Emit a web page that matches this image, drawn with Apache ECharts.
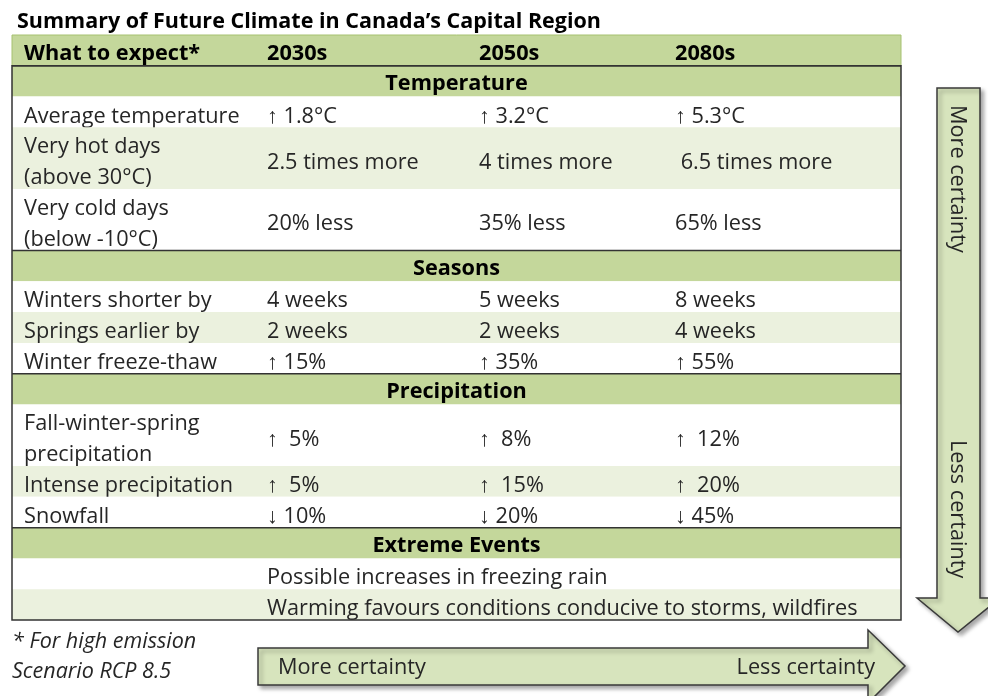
<!DOCTYPE html>
<html>
<head>
<meta charset="utf-8">
<script src="https://cdn.jsdelivr.net/npm/echarts@6/dist/echarts.min.js"></script>
<style>
  html, body { margin: 0; padding: 0; background: #fff; }
  #chart { width: 988px; height: 696px; }
</style>
</head>
<body>
<div id="chart"></div>
<script>
// table content
const columnHeaders = ['What to expect*', '2030s', '2050s', '2080s']
const sections = ['Temperature', 'Seasons', 'Precipitation', 'Extreme Events']
const sectionSizes = [3, 3, 3, 2]
const rowLabels = [
  'Average temperature',
  'Very hot days\n(above 30°C)',
  'Very cold days\n(below -10°C)',
  'Winters shorter by',
  'Springs earlier by',
  'Winter freeze-thaw',
  'Fall-winter-spring\nprecipitation',
  'Intense precipitation',
  'Snowfall',
  '',
  ''
]
const values2030s = ['↑ 1.8°C', '2.5 times more', '20% less', '4 weeks', '2 weeks', '↑ 15%', '↑  5%', '↑  5%', '↓ 10%',
  'Possible increases in freezing rain', 'Warming favours conditions conducive to storms, wildfires']
const values2050s = ['↑ 3.2°C', '4 times more', '35% less', '5 weeks', '2 weeks', '↑ 35%', '↑  8%', '↑  15%', '↓ 20%', '', '']
const values2080s = ['↑ 5.3°C', ' 6.5 times more', '65% less', '8 weeks', '4 weeks', '↑ 55%', '↑  12%', '↑  20%', '↓ 45%', '', '']
const arrowLabels = ['More certainty', 'Less certainty']
const footnote = ['* For high emission', 'Scenario RCP 8.5']

// layout
const FONT = '"Open Sans", "Noto Sans", sans-serif'
const SIZE = '21.7px '
const tableLeft = 12
const tableWidth = 889
const colOffsets = [12, 255, 467, 663]
const green = '#c4d79b'
const paleGreen = '#ebf1de'
const textColor = '#262626'

// build rows in line units (one line = one unit)
const rows = []
let y = 0
rows.push({ kind: 'head', y0: y, y1: y + 1, texts: columnHeaders })
y += 1
let r = 0
sections.forEach((name, s) => {
  rows.push({ kind: 'section', y0: y, y1: y + 1, texts: [name] })
  y += 1
  for (let k = 0; k < sectionSizes[s]; k++) {
    const lines = Math.max(rowLabels[r].split('\n').length, 1)
    rows.push({
      kind: 'row', y0: y, y1: y + lines, shade: k % 2 === 1,
      texts: [rowLabels[r], values2030s[r], values2050s[r], values2080s[r]]
    })
    y += lines
    r++
  }
})
const totalUnits = y

const chart = echarts.init(document.getElementById('chart'))

const cellText = (x, yc, text, bold) => ({
  type: 'text',
  style: {
    x, y: yc, text,
    fill: bold ? '#000' : textColor,
    font: (bold ? 'bold ' : '') + SIZE + FONT,
    lineHeight: 31,
    verticalAlign: 'middle',
    textAlign: 'left'
  }
})

const plainText = (x, y, text, opts) => Object.assign({
  type: 'text', x, y,
  style: { text, fill: textColor, font: SIZE + FONT, textAlign: 'left', verticalAlign: 'middle' }
}, opts)

const option = {
  animation: false,
  title: {
    text: 'Summary of Future Climate in Canada\u2019s Capital Region',
    left: 12,
    top: 6,
    textStyle: { fontFamily: FONT, fontSize: 21.5, fontWeight: 'bold', color: '#000' }
  },
  grid: { left: tableLeft, top: 35, width: tableWidth, height: 585 },
  xAxis: { type: 'value', min: 0, max: tableWidth, show: false },
  yAxis: { type: 'value', min: 0, max: totalUnits, inverse: true, show: false },
  series: [
    {
      type: 'custom',
      data: rows.map(row => [0, row.y0, row.y1]),
      renderItem (params, api) {
        const row = rows[params.dataIndex]
        const top = api.coord([0, api.value(1)])
        const bot = api.coord([tableWidth, api.value(2)])
        const yc = (top[1] + bot[1]) / 2
        const fill = row.kind === 'row' ? (row.shade ? paleGreen : '#fff') : green
        const children = [{
          type: 'rect',
          shape: { x: top[0], y: top[1], width: bot[0] - top[0], height: bot[1] - top[1] },
          style: { fill }
        }]
        if (row.kind === 'section') {
          children.push({
            type: 'text',
            style: {
              x: (top[0] + bot[0]) / 2, y: yc + 3, text: row.texts[0],
              fill: '#000', font: 'bold ' + SIZE + FONT,
              textAlign: 'center', verticalAlign: 'middle'
            }
          })
        } else {
          row.texts.forEach((t, i) => {
            if (!t) return
            const x = api.coord([colOffsets[i], 0])[0]
            children.push(cellText(x, yc + (row.kind === 'head' ? 3 : 4.5), t, row.kind === 'head'))
          })
        }
        return { type: 'group', children }
      }
    },
    {
      // frame and section rules
      type: 'custom',
      z: 5,
      data: [[0, 1, totalUnits]],
      renderItem (params, api) {
        const a = api.coord([0, 0])
        const b = api.coord([tableWidth, 1])
        const c = api.coord([tableWidth, totalUnits])
        const children = [
          {
            type: 'rect',
            shape: { x: a[0], y: a[1], width: b[0] - a[0], height: b[1] - a[1] },
            style: { fill: null, stroke: '#a6c170', lineWidth: 1 }
          },
          {
            type: 'rect',
            shape: { x: a[0], y: b[1], width: c[0] - a[0], height: c[1] - b[1] },
            style: { fill: null, stroke: '#333', lineWidth: 1.5 }
          }
        ]
        rows.forEach(row => {
          if (row.kind !== 'section') return
          const p = api.coord([0, row.y0])
          children.push({
            type: 'line',
            shape: { x1: a[0], y1: p[1], x2: c[0], y2: p[1] },
            style: { stroke: '#333', lineWidth: 1.5 }
          })
        })
        return { type: 'group', children }
      }
    }
  ],
  graphic: [
    {
      type: 'polygon',
      shape: { points: [[937, 88], [980, 88], [980, 598], [1000, 598], [958, 632], [917, 598], [937, 598]] },
      style: { fill: '#d7e4bd', stroke: '#3a3a3a', lineWidth: 1.5, shadowBlur: 4, shadowOffsetX: 3, shadowOffsetY: 3, shadowColor: 'rgba(0,0,0,0.35)' }
    },
    plainText(957, 105, arrowLabels[0], { rotation: -Math.PI / 2 }),
    plainText(957, 440, arrowLabels[1], { rotation: -Math.PI / 2 }),
    {
      type: 'polygon',
      shape: { points: [[258, 648], [868, 648], [868, 630], [905, 666], [868, 703], [868, 685], [258, 685]] },
      style: { fill: '#d7e4bd', stroke: '#3a3a3a', lineWidth: 1.5, shadowBlur: 4, shadowOffsetX: 3, shadowOffsetY: 3, shadowColor: 'rgba(0,0,0,0.35)' }
    },
    plainText(278, 668, arrowLabels[0]),
    {
      type: 'text', x: 875, y: 668,
      style: { text: arrowLabels[1], fill: textColor, font: SIZE + FONT, textAlign: 'right', verticalAlign: 'middle' }
    },
    {
      type: 'text', x: 12, y: 642,
      style: { text: footnote[0], fill: textColor, font: 'italic 21.5px ' + FONT, textAlign: 'left', verticalAlign: 'middle' }
    },
    {
      type: 'text', x: 12, y: 672,
      style: { text: footnote[1], fill: textColor, font: 'italic 21.5px ' + FONT, textAlign: 'left', verticalAlign: 'middle' }
    }
  ]
}

chart.setOption(option)
window.addEventListener('resize', () => chart.resize())
</script>
</body>
</html>
